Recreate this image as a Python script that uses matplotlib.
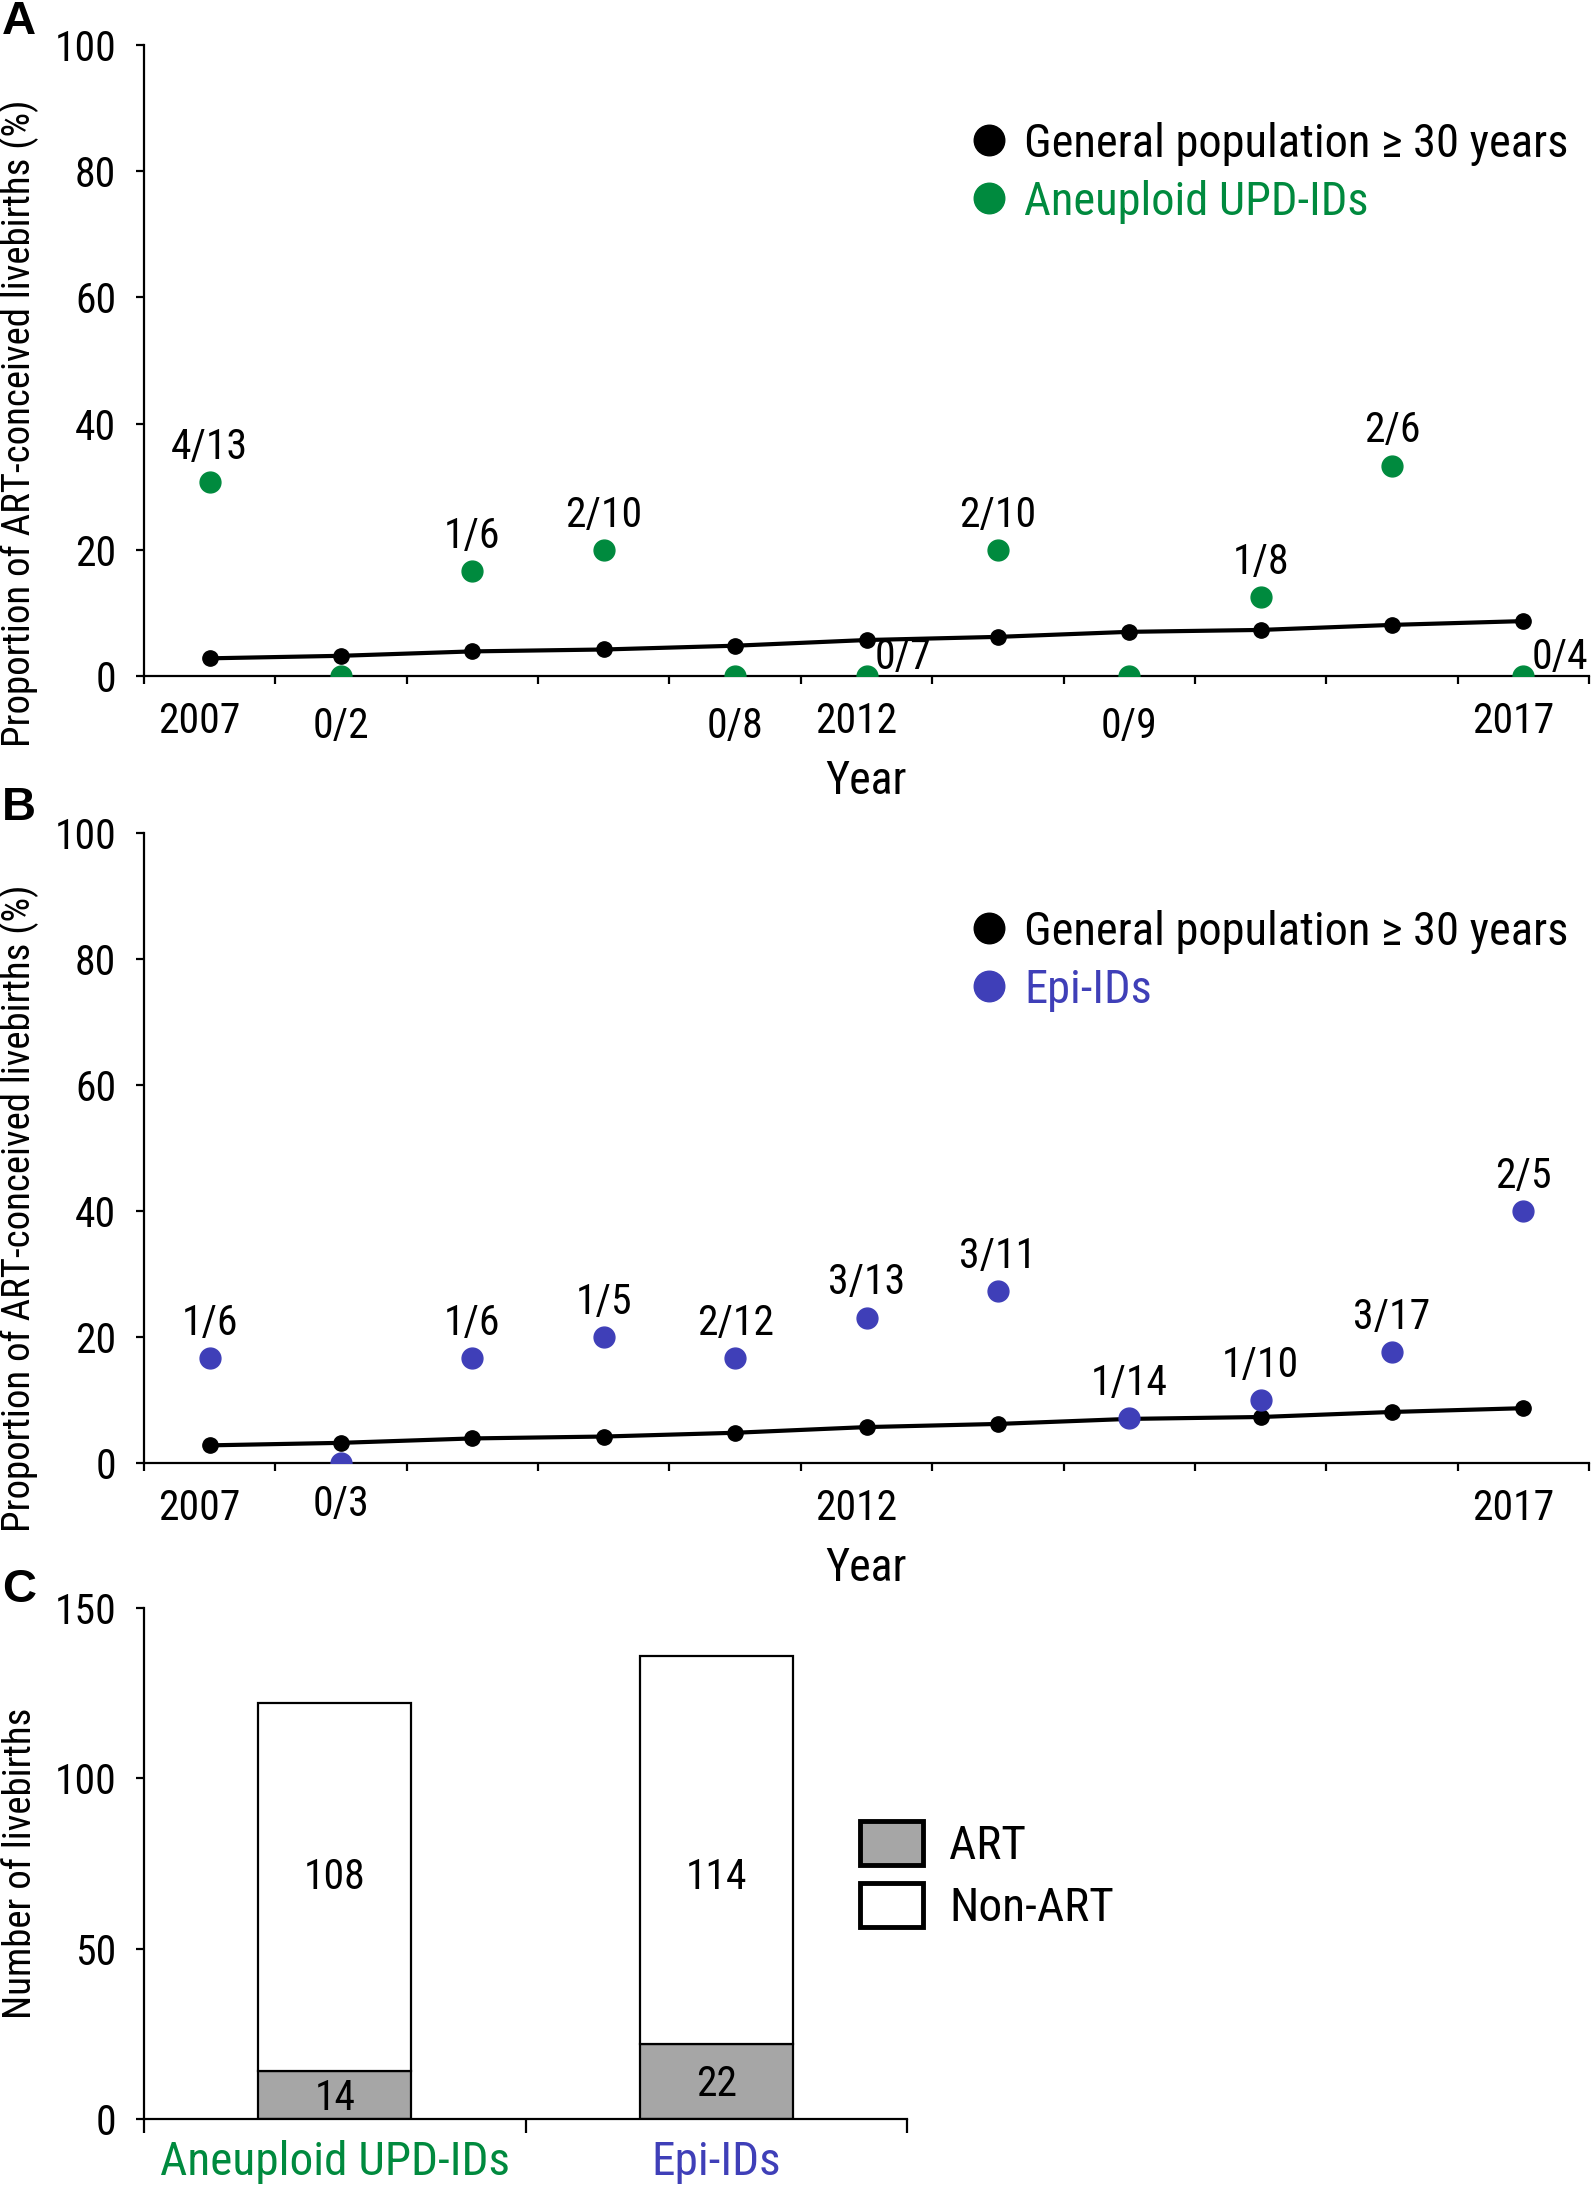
import matplotlib
matplotlib.use("Agg")
import matplotlib.pyplot as plt
import matplotlib.transforms as mtransforms
import numpy as np
from matplotlib.lines import Line2D
from matplotlib.patches import Patch

plt.rcParams['font.family'] = ['Roboto Condensed', 'DejaVu Sans']
plt.rcParams['font.stretch'] = 'condensed'

GREEN = "#008a3e"
BLUE = "#3f3fb8"
GREY = "#a6a6a6"

years = list(range(2007, 2018))
general_pop = [2.8, 3.2, 3.9, 4.2, 4.8, 5.7, 6.2, 7.0, 7.3, 8.1, 8.7]

upd_num = [4, 0, 1, 2, 0, 0, 2, 0, 1, 2, 0]
upd_den = [13, 2, 6, 10, 8, 7, 10, 9, 8, 6, 4]

epi_num = [1, 0, 1, 1, 2, 3, 3, 1, 1, 3, 2]
epi_den = [6, 3, 6, 5, 12, 13, 11, 14, 10, 17, 5]

groups = ["Aneuploid UPD-IDs", "Epi-IDs"]
group_colors = [GREEN, BLUE]
art_counts = [14, 22]
nonart_counts = [108, 114]

W, H = 1594, 2191
FS = 30
fig = plt.figure(figsize=(W / 100, H / 100), dpi=100)


def px_box(x0, y0, x1, y1):
    # pixel box (top-left origin) -> figure fraction [l, b, w, h]
    return [x0 / W, 1 - y1 / H, (x1 - x0) / W, (y1 - y0) / H]


def style_axes(ax):
    for s in ("top", "right"):
        ax.spines[s].set_visible(False)
    for s in ("left", "bottom"):
        ax.spines[s].set_linewidth(1.6)
    ax.tick_params(axis="both", which="major", length=6, width=1.6, labelsize=FS, direction="out")
    ax.tick_params(axis="y", pad=14)


def year_panel(ax, num, den, color, name, below_pad, side_zero):
    style_axes(ax)
    pct = [100.0 * n / d for n, d in zip(num, den)]
    ax.plot(years, general_pop, "-o", color="black", lw=3, ms=11, zorder=3)
    ax.plot(years, pct, "o", color=color, ms=15, zorder=4, linestyle="none")
    for yr, n, d, p in zip(years, num, den, pct):
        lab = f"{n}/{d}"
        if n > 0:
            ax.annotate(lab, (yr, p), xytext=(0, 25), textcoords="offset points",
                        ha="center", va="center", fontsize=FS)
        elif yr in side_zero:
            ax.annotate(lab, (yr, p), xytext=(6, 13), textcoords="offset points",
                        ha="left", va="center", fontsize=FS)
        else:
            ax.annotate(lab, (yr, p), xytext=(0, -below_pad), textcoords="offset points",
                        ha="center", va="center", fontsize=FS, annotation_clip=False)
    ax.set_xlim(2006.5, 2017.5)
    ax.set_ylim(0, 100)
    ax.set_yticks(range(0, 101, 20))
    ax.set_xticks(np.arange(2006.5, 2018, 1.0))
    ax.set_xticklabels([])
    ax.set_xticks([2007, 2012, 2017], minor=True)
    ax.set_xticklabels(["2007", "2012", "2017"], minor=True)
    ax.tick_params(axis="x", which="minor", length=0, labelsize=FS, pad=18)
    shift = mtransforms.ScaledTranslation(-0.10, 0, fig.dpi_scale_trans)
    for lab in ax.get_xticklabels(minor=True):
        lab.set_transform(lab.get_transform() + shift)
    ax.set_xlabel("Year", fontsize=33, labelpad=12)
    ax.set_ylabel("Proportion of ART-conceived livebirths (%)", fontsize=28)
    handles = [Line2D([], [], marker="o", color="black", ls="none", ms=22),
               Line2D([], [], marker="o", color=color, ls="none", ms=22)]
    leg = ax.legend(handles, ["General population \u2265 30 years", name], loc="upper left",
                    bbox_to_anchor=(0.556, 0.908), frameon=False, fontsize=33.5,
                    handlelength=1.0, handletextpad=0.25, labelspacing=0.3, borderaxespad=0)
    leg.get_texts()[1].set_color(color)


axA = fig.add_axes(px_box(144, 45, 1589, 676))
year_panel(axA, upd_num, upd_den, GREEN, "Aneuploid UPD-IDs", 36, (2012, 2017))
axA.yaxis.set_label_coords(-0.073, 0.40)

axB = fig.add_axes(px_box(144, 833, 1589, 1463))
year_panel(axB, epi_num, epi_den, BLUE, "Epi-IDs", 30, ())
axB.yaxis.set_label_coords(-0.073, 0.405)

# panel C
axC = fig.add_axes(px_box(144, 1608, 907, 2119))
style_axes(axC)
xpos = np.arange(len(groups))
axC.bar(xpos, art_counts, width=0.4, color=GREY, edgecolor="black", lw=1.6, label="ART")
axC.bar(xpos, nonart_counts, width=0.4, bottom=art_counts, color="white", edgecolor="black",
        lw=1.6, label="Non-ART")
for x, a, n in zip(xpos, art_counts, nonart_counts):
    axC.text(x, a / 2 - 1, str(a), ha="center", va="center", fontsize=FS)
    axC.text(x, 71, str(n), ha="center", va="center", fontsize=FS)
axC.set_xlim(-0.5, 1.5)
axC.set_ylim(0, 150)
axC.set_yticks([0, 50, 100, 150])
axC.set_xticks([-0.5, 0.5, 1.5])
axC.set_xticklabels([])
axC.set_xticks(xpos, minor=True)
axC.set_xticklabels(groups, minor=True)
axC.tick_params(axis="x", which="minor", length=0, labelsize=34, pad=15)
axC.tick_params(axis="x", which="major", length=10)
for lab, c in zip(axC.get_xticklabels(minor=True), group_colors):
    lab.set_color(c)
axC.set_ylabel("Number of livebirths", fontsize=28)
axC.yaxis.set_label_coords(-0.138, 0.50)
ch = [Patch(facecolor=GREY, edgecolor="black", lw=3.5), Patch(facecolor="white", edgecolor="black", lw=3.5)]
axC.legend(ch, ["ART", "Non-ART"], loc="upper left", bbox_to_anchor=(0.913, 0.62),
           frameon=False, fontsize=34, handlelength=1.35, handleheight=1.05, handletextpad=0.55,
           labelspacing=0.32, borderaxespad=0)

# panel letters
for letter, ypx in (("A", 22), ("B", 808), ("C", 1590)):
    fig.text(2 / W, 1 - ypx / H, letter, fontsize=34, fontweight="bold", ha="left", va="center",
             family=["Liberation Sans", "DejaVu Sans"], stretch="normal")

fig.savefig("out.png", dpi=100)
